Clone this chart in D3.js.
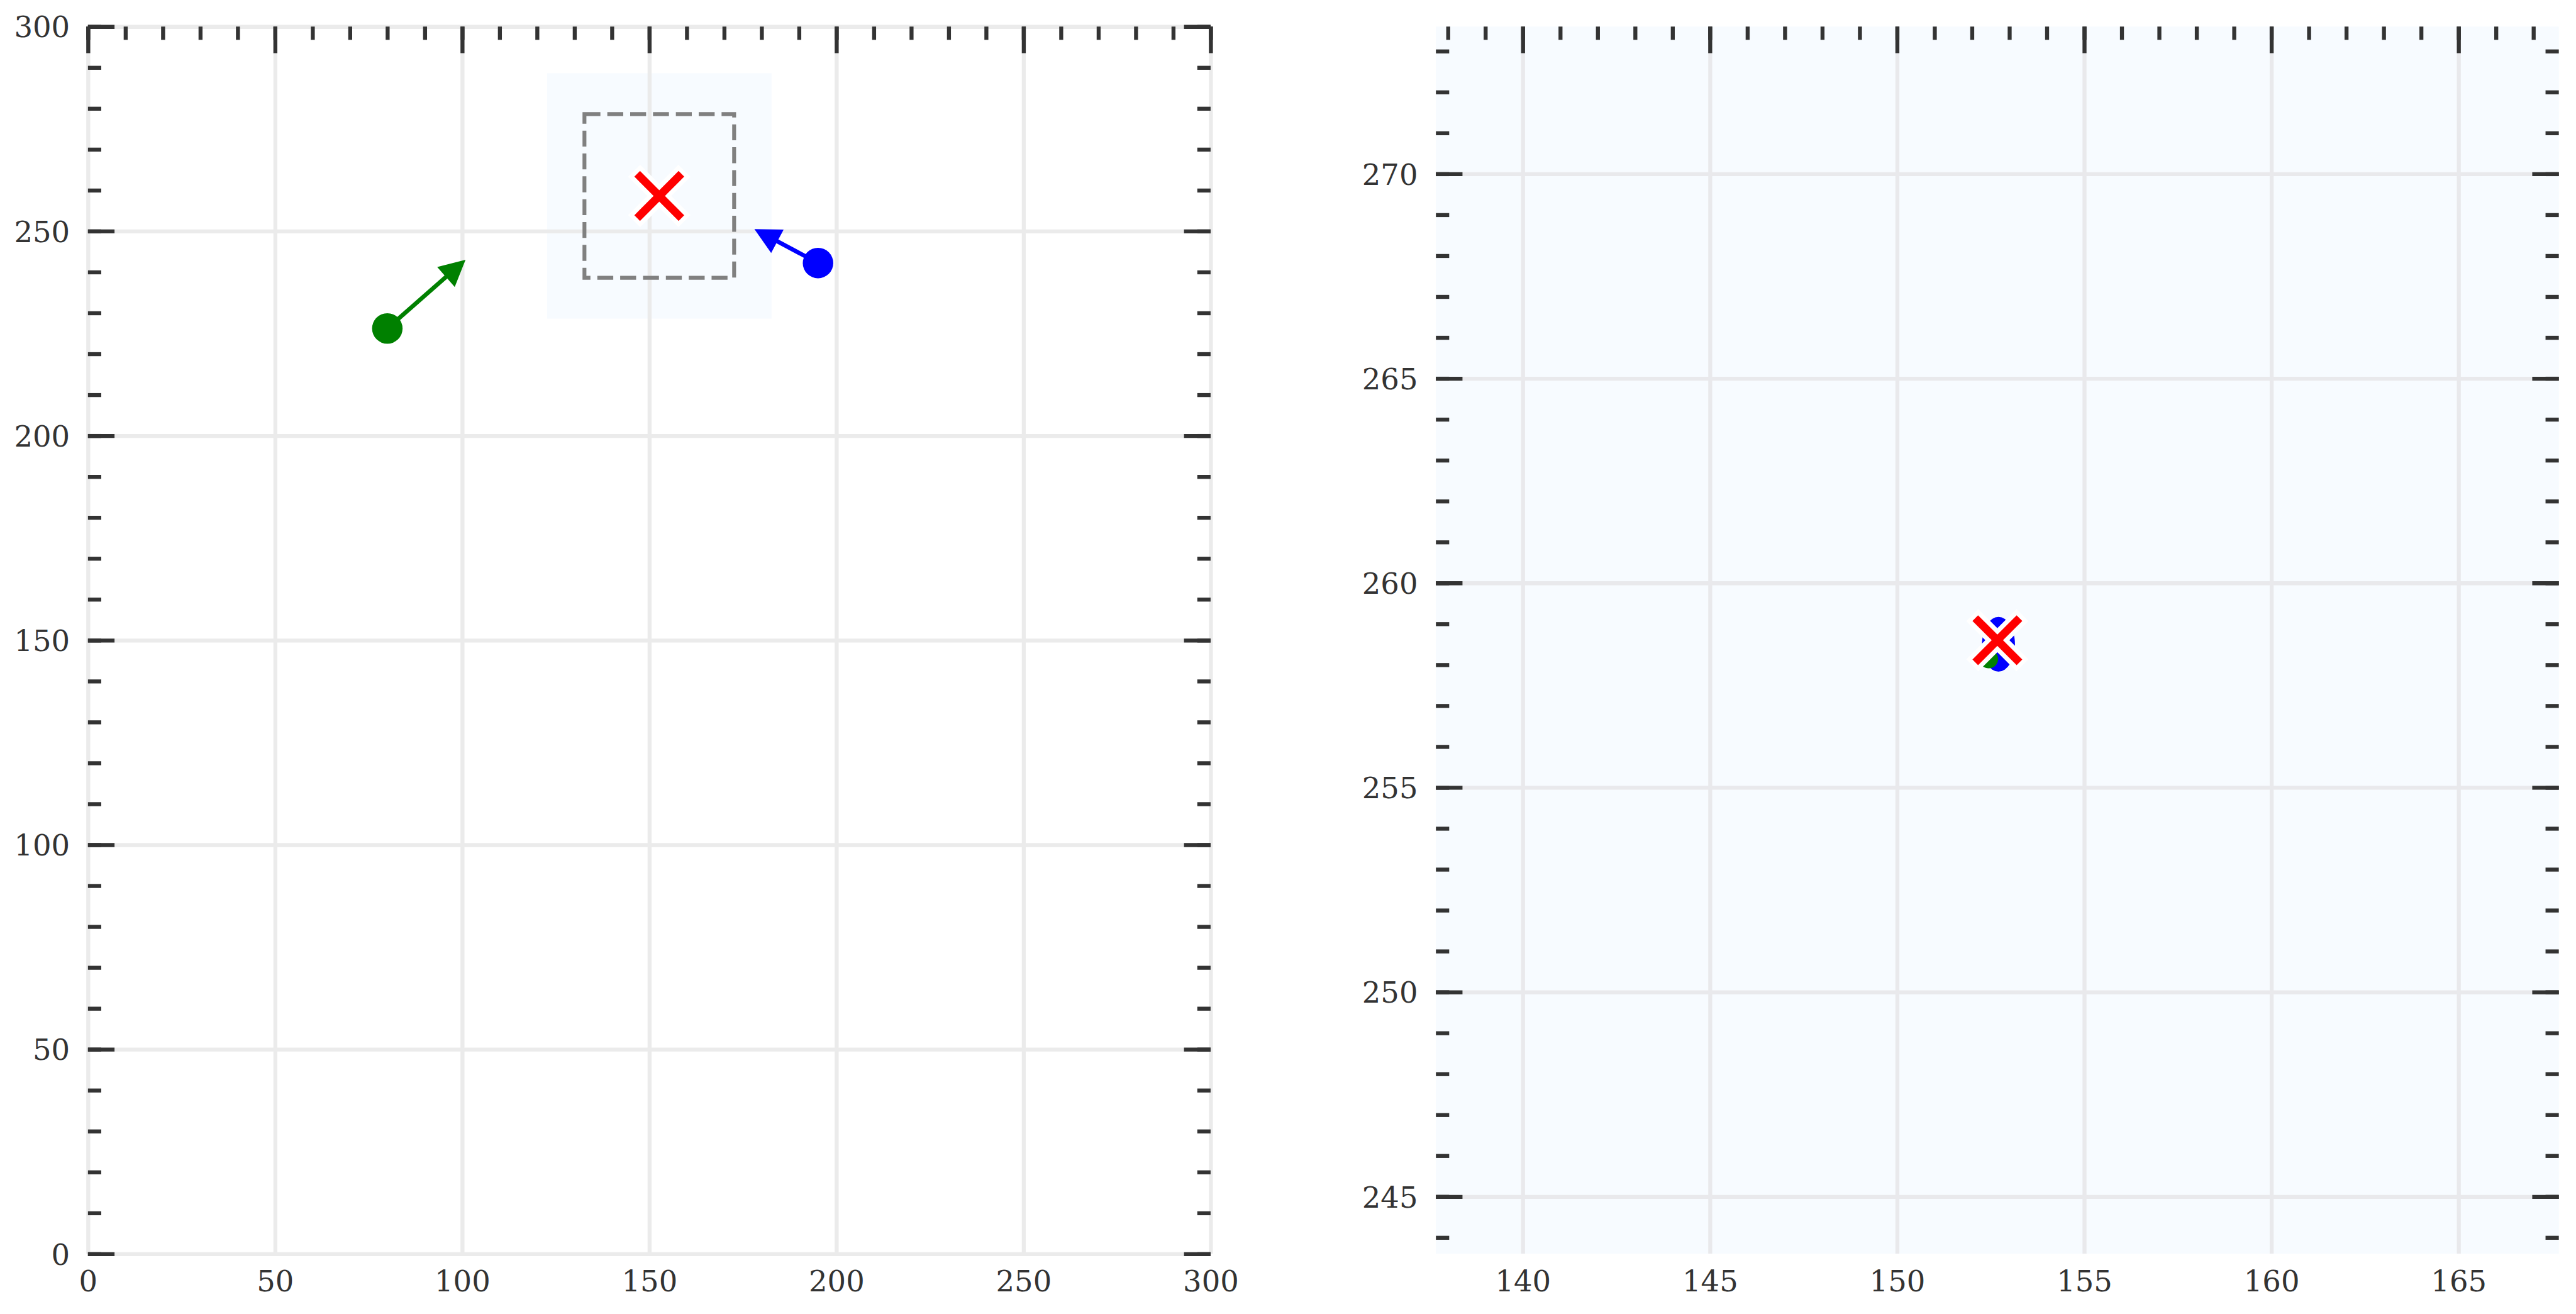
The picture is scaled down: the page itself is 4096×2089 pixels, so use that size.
<!DOCTYPE html>
<html>
<head>
<meta charset="utf-8">
<script src="https://cdn.jsdelivr.net/npm/d3@7"></script>
<style>
  html, body { margin: 0; padding: 0; background: #ffffff; }
  svg { display: block; }
  text { font-family: "DejaVu Serif", serif; fill: #333333; }
</style>
</head>
<body>
<svg id="chart" width="4096" height="2089"></svg>
<script>
// ---------------- DATA ----------------
const leftXDomain = [0, 300];
const leftYDomain = [0, 300];
const leftMajorTicks = [0, 50, 100, 150, 200, 250, 300];
const leftMinorTicks = d3.range(0, 301, 10);

const target = { x: 152.68, y: 258.6 };
const zoomHalfWidth = 15;   // right panel shows target +/- 15
const dashedHalfWidth = 20; // dashed box on left panel
const shadedHalfWidth = 30; // light shaded area on left panel

const rightXMajorTicks = [140, 145, 150, 155, 160, 165];
const rightYMajorTicks = [245, 250, 255, 260, 265, 270];
const rightXMinorTicks = d3.range(138, 168, 1);
const rightYMinorTicks = d3.range(244, 274, 1);

const agentNames  = ["green", "blue"];
const agentColors = ["#008000", "#0000ff"];
const agentX      = [80.0, 195.1];
const agentY      = [226.2, 242.2];
const arrowTipX   = [100.9, 178.1];
const arrowTipY   = [243.0, 250.5];

// agents as seen in the zoomed view
const zoomAgentNames = ["blue", "green"];
const zoomAgentX     = [152.71, 152.45];
const zoomAgentY     = [258.50, 258.14];

// ---------------- LAYOUT ----------------
const S = 0.845;
const svg = d3.select("#chart");

const panels = {
  left:  { x0: 165.5 * S, x1: 2278 * S, y0: 50 * S, y1: 2359 * S },
  right: { x0: 2702 * S,  x1: 4815 * S, y0: 50 * S, y1: 2359 * S }
};

const tickColor = "#333333";
const tickW = 7.5 * S;
const majorLen = 50 * S;
const minorLen = 25 * S;
const gridColor = "#ebebeb";
const gridW = 7.5 * S;
const fontSize = 55 * S;

function drawPanel(p, xDom, yDom, bg, id) {
  const x = d3.scaleLinear().domain(xDom).range([p.x0, p.x1]);
  const y = d3.scaleLinear().domain(yDom).range([p.y1, p.y0]);
  const w = p.x1 - p.x0, h = p.y1 - p.y0;

  svg.append("clipPath").attr("id", "clip-" + id)
    .append("rect").attr("x", p.x0).attr("y", p.y0).attr("width", w).attr("height", h);

  const g = svg.append("g");
  if (bg) {
    g.append("rect").attr("x", p.x0).attr("y", p.y0).attr("width", w).attr("height", h)
      .attr("fill", bg);
  }
  return { x, y, g, w, h };
}

function drawGrid(P, p, xMajor, yMajor, gridLayer, color) {
  const { x, y, w, h } = P;
  const gx = gridLayer.append("g").attr("transform", `translate(0,${p.y1})`)
    .call(d3.axisBottom(x).tickValues(xMajor).tickSize(-h).tickFormat(""));
  const gy = gridLayer.append("g").attr("transform", `translate(${p.x0},0)`)
    .call(d3.axisLeft(y).tickValues(yMajor).tickSize(-w).tickFormat(""));
  [gx, gy].forEach(a => {
    a.select(".domain").remove();
    a.selectAll(".tick line").attr("stroke", color).attr("stroke-width", gridW);
  });
}

function drawAxes(P, p, xMajor, yMajor, xMinor, yMinor) {
  const { x, y } = P;
  const axes = [];
  axes.push(svg.append("g").attr("transform", `translate(${p.x0},0)`)
    .call(d3.axisLeft(y).tickValues(yMinor).tickSize(-minorLen).tickFormat("")));
  axes.push(svg.append("g").attr("transform", `translate(${p.x0},0)`)
    .call(d3.axisLeft(y).tickValues(yMajor).tickSize(-majorLen).tickFormat("")));
  axes.push(svg.append("g").attr("transform", `translate(${p.x1},0)`)
    .call(d3.axisRight(y).tickValues(yMinor).tickSize(-minorLen).tickFormat("")));
  axes.push(svg.append("g").attr("transform", `translate(${p.x1},0)`)
    .call(d3.axisRight(y).tickValues(yMajor).tickSize(-majorLen).tickFormat("")));
  axes.push(svg.append("g").attr("transform", `translate(0,${p.y0})`)
    .call(d3.axisTop(x).tickValues(xMinor).tickSize(-minorLen).tickFormat("")));
  axes.push(svg.append("g").attr("transform", `translate(0,${p.y0})`)
    .call(d3.axisTop(x).tickValues(xMajor).tickSize(-majorLen).tickFormat("")));
  axes.forEach(a => {
    a.select(".domain").remove();
    a.selectAll(".tick line").attr("stroke", tickColor).attr("stroke-width", tickW);
  });
  const lb = svg.append("g").attr("transform", `translate(0,${p.y1})`)
    .call(d3.axisBottom(x).tickValues(xMajor).tickSize(0).tickPadding(31 * S).tickFormat(d3.format("d")));
  const ll = svg.append("g").attr("transform", `translate(${p.x0},0)`)
    .call(d3.axisLeft(y).tickValues(yMajor).tickSize(0).tickPadding(34 * S).tickFormat(d3.format("d")));
  [lb, ll].forEach(a => {
    a.select(".domain").remove();
    a.selectAll(".tick line").remove();
    a.selectAll("text").attr("font-family", "'DejaVu Serif', serif")
      .attr("font-size", fontSize).attr("fill", "#333333");
  });
  ll.selectAll("text").attr("dy", "0.36em");
}

function drawX(g, cx, cy) {
  const a = 41.6 * S, aw = 47.3 * S;
  [[-1, -1, 1, 1], [-1, 1, 1, -1]].forEach(d => {
    g.append("line").attr("x1", cx + d[0] * aw).attr("y1", cy + d[1] * aw)
      .attr("x2", cx + d[2] * aw).attr("y2", cy + d[3] * aw)
      .attr("stroke", "#ffffff").attr("stroke-width", 32 * S);
  });
  [[-1, -1, 1, 1], [-1, 1, 1, -1]].forEach(d => {
    g.append("line").attr("x1", cx + d[0] * a).attr("y1", cy + d[1] * a)
      .attr("x2", cx + d[2] * a).attr("y2", cy + d[3] * a)
      .attr("stroke", "#ff0000").attr("stroke-width", 15 * S);
  });
}

// ---------------- LEFT PANEL ----------------
const PL = drawPanel(panels.left, leftXDomain, leftYDomain, null, "left");
const gl = PL.g;
gl.append("rect")
  .attr("x", PL.x(target.x - shadedHalfWidth))
  .attr("y", PL.y(target.y + shadedHalfWidth))
  .attr("width", PL.x(target.x + shadedHalfWidth) - PL.x(target.x - shadedHalfWidth))
  .attr("height", PL.y(target.y - shadedHalfWidth) - PL.y(target.y + shadedHalfWidth))
  .attr("fill", "#f7fbff");
drawGrid(PL, panels.left, leftMajorTicks, leftMajorTicks, gl, gridColor);
gl.append("rect")
  .attr("x", PL.x(target.x - dashedHalfWidth))
  .attr("y", PL.y(target.y + dashedHalfWidth))
  .attr("width", PL.x(target.x + dashedHalfWidth) - PL.x(target.x - dashedHalfWidth))
  .attr("height", PL.y(target.y - dashedHalfWidth) - PL.y(target.y + dashedHalfWidth))
  .attr("fill", "none").attr("stroke", "#808080").attr("stroke-width", 7.3 * S)
  .attr("stroke-dasharray", `${30 * S},${13 * S}`);

agentNames.forEach((n, i) => {
  const x0 = PL.x(agentX[i]), y0 = PL.y(agentY[i]);
  const x1 = PL.x(arrowTipX[i]), y1 = PL.y(arrowTipY[i]);
  const dx = x1 - x0, dy = y1 - y0, L = Math.hypot(dx, dy);
  const ux = dx / L, uy = dy / L, px = -uy, py = ux;
  const hl = 49 * S, hw = 25 * S;
  const bx = x1 - ux * hl, by = y1 - uy * hl;
  gl.append("line").attr("x1", x0).attr("y1", y0).attr("x2", bx + ux * 2).attr("y2", by + uy * 2)
    .attr("stroke", agentColors[i]).attr("stroke-width", 8 * S);
  gl.append("path")
    .attr("d", `M${x1},${y1}L${bx + px * hw},${by + py * hw}L${bx - px * hw},${by - py * hw}Z`)
    .attr("fill", agentColors[i]);
});
agentNames.forEach((n, i) => {
  gl.append("circle").attr("cx", PL.x(agentX[i])).attr("cy", PL.y(agentY[i]))
    .attr("r", 28.7 * S).attr("fill", agentColors[i]);
});
drawX(gl, PL.x(target.x), PL.y(target.y));
drawAxes(PL, panels.left, leftMajorTicks, leftMajorTicks, leftMinorTicks, leftMinorTicks);

// ---------------- RIGHT PANEL ----------------
const rxDom = [target.x - zoomHalfWidth, target.x + zoomHalfWidth];
const ryDom = [target.y - zoomHalfWidth, target.y + zoomHalfWidth];
const PR = drawPanel(panels.right, rxDom, ryDom, "#f7fbff", "right");
const gr = PR.g.append("g").attr("clip-path", "url(#clip-right)");
drawGrid(PR, panels.right, rightXMajorTicks, rightYMajorTicks, gr, "#e9e9ec");
gr.append("ellipse").attr("cx", PR.x(zoomAgentX[0])).attr("cy", PR.y(zoomAgentY[0]))
  .attr("rx", 31 * S).attr("ry", 51.5 * S).attr("fill", "#0000ff");
gr.append("circle").attr("cx", PR.x(zoomAgentX[1])).attr("cy", PR.y(zoomAgentY[1]))
  .attr("r", 17.5 * S).attr("fill", "#008000");
drawX(gr, PR.x(target.x), PR.y(target.y));
drawAxes(PR, panels.right, rightXMajorTicks, rightYMajorTicks, rightXMinorTicks, rightYMinorTicks);
</script>
</body>
</html>
